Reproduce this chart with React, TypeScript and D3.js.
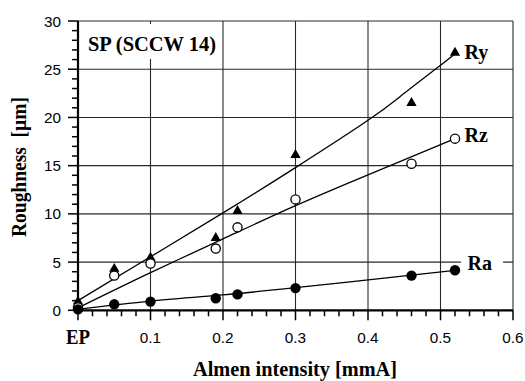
import React from "react";
import * as d3 from "d3";

// Measured data (Almen intensity, mmA; EP = 0)
const intensity = [0, 0.05, 0.1, 0.19, 0.22, 0.3, 0.46, 0.52];
const ryValues = [0.9, 4.3, 5.45, 7.5, 10.3, 16.1, 21.5, 26.7];
const rzValues = [0.3, 3.6, 4.85, 6.4, 8.6, 11.5, 15.2, 17.8];
const raValues = [0.1, 0.62, 0.9, 1.25, 1.65, 2.3, 3.6, 4.15];

// Trend curves
const ryFitX = [0, 0.1, 0.2, 0.3, 0.4, 0.45, 0.5, 0.52];
const ryFitY = [1.0, 5.55, 10.1, 14.8, 19.7, 22.5, 25.4, 26.6];
const rzFitX = [0, 0.1, 0.2, 0.3, 0.4, 0.52];
const rzFitY = [0.25, 3.9, 7.4, 10.85, 14.05, 17.8];
const raFitX = [0, 0.1, 0.2, 0.3, 0.46, 0.52];
const raFitY = [0.1, 0.95, 1.6, 2.35, 3.65, 4.15];

const xTickValues = [0, 0.1, 0.2, 0.3, 0.4, 0.5, 0.6];
const xTickLabels = ["EP", "0.1", "0.2", "0.3", "0.4", "0.5", "0.6"];
const yTickValues = [0, 5, 10, 15, 20, 25, 30];

const SERIF = "'Liberation Serif', 'Times New Roman', serif";
const SANS = "'Liberation Sans', Arial, sans-serif";

export default function App() {
  const x = d3.scaleLinear().domain([0, 0.6]).range([78, 513]);
  const y = d3.scaleLinear().domain([0, 30]).range([310.3, 21]);

  const line = d3
    .line<[number, number]>()
    .x((d) => x(d[0]))
    .y((d) => y(d[1]))
    .curve(d3.curveNatural);

  const zip = (a: number[], b: number[]) => a.map((v, i) => [v, b[i]] as [number, number]);

  const tri = d3.symbol().type(d3.symbolTriangle).size(46)() as string;

  const xMinor = d3.range(0, 0.6001, 0.02);
  const yMinor = d3.range(0, 30.001, 1);

  return (
    <svg
      width={525}
      height={381}
      style={{ position: "absolute", left: 0, top: 0, background: "#fff" }}
    >
      <rect x={0} y={0} width={525} height={381} fill="#fff" />
      {/* grid */}
      {yTickValues.slice(1).map((v) => (
        <line key={"gy" + v} x1={x(0)} x2={x(0.6)} y1={y(v)} y2={y(v)} stroke="#2a2a2a" strokeWidth={1.1} />
      ))}
      {xTickValues.slice(1).map((v) => (
        <line key={"gx" + v} x1={x(v)} x2={x(v)} y1={y(0)} y2={y(30)} stroke="#2a2a2a" strokeWidth={1.1} />
      ))}

      {/* label boxes that interrupt grid */}
      <rect x={84} y={24} width={137} height={35} fill="#fff" />
      <rect x={461} y={255} width={42} height={18} fill="#fff" />

      {/* axes */}
      {xMinor.map((v, i) => (
        <line
          key={"xt" + i}
          x1={x(v)}
          x2={x(v)}
          y1={y(0)}
          y2={y(0) + (i % 5 === 0 ? 10 : 6)}
          stroke="#000"
          strokeWidth={1.5}
        />
      ))}
      {yMinor.map((v, i) => (
        <line
          key={"yt" + i}
          x1={x(0) - (i % 5 === 0 ? 10 : 6)}
          x2={x(0)}
          y1={y(v)}
          y2={y(v)}
          stroke="#000"
          strokeWidth={1.5}
        />
      ))}
      <line x1={x(0)} x2={x(0)} y1={y(30)} y2={y(0) + 1} stroke="#000" strokeWidth={2.2} />
      <line x1={x(0) - 1} x2={x(0.6)} y1={y(0)} y2={y(0)} stroke="#000" strokeWidth={2.2} />

      {/* tick labels */}
      {yTickValues.map((v) => (
        <text key={"yl" + v} x={61} y={y(v)} dy="0.36em" textAnchor="end" fontFamily={SANS} fontSize={15.3} fill="#000">
          {v}
        </text>
      ))}
      {xTickValues.map((v, i) =>
        i === 0 ? (
          <text key={"xl" + i} x={x(v)} y={344} textAnchor="middle" fontFamily={SERIF} fontWeight="bold" fontSize={20} fill="#000" textLength={24} lengthAdjust="spacingAndGlyphs">
            {xTickLabels[i]}
          </text>
        ) : (
          <text key={"xl" + i} x={x(v)} y={343} textAnchor="middle" fontFamily={SANS} fontSize={15.3} fill="#000">
            {xTickLabels[i]}
          </text>
        )
      )}

      {/* axis titles */}
      <text x={295} y={376} textAnchor="middle" fontFamily={SERIF} fontWeight="bold" fontSize={20} fill="#000" textLength={204} lengthAdjust="spacingAndGlyphs">
        Almen intensity [mmA]
      </text>
      <text
        transform={`translate(25.5,167) rotate(-90)`}
        textAnchor="middle"
        fontFamily={SERIF}
        fontWeight="bold"
        fontSize={20}
        fill="#000"
        textLength={140}
        lengthAdjust="spacingAndGlyphs"
        style={{ whiteSpace: "pre" }}
      >
        {"Roughness  [µm]"}
      </text>

      {/* trend lines */}
      <path d={line(zip(ryFitX, ryFitY)) as string} fill="none" stroke="#000" strokeWidth={1.3} />
      <path d={line(zip(rzFitX, rzFitY)) as string} fill="none" stroke="#000" strokeWidth={1.3} />
      <path d={line(zip(raFitX, raFitY)) as string} fill="none" stroke="#000" strokeWidth={1.3} />

      {/* markers */}
      {intensity.map((v, i) => (
        <path key={"ry" + i} d={tri} transform={`translate(${x(v)},${y(ryValues[i])})`} fill="#000" />
      ))}
      {intensity.map((v, i) => (
        <circle key={"rz" + i} cx={x(v)} cy={y(rzValues[i])} r={4.6} fill="#fff" stroke="#000" strokeWidth={1.3} />
      ))}
      {intensity.map((v, i) => (
        <circle key={"ra" + i} cx={x(v)} cy={y(raValues[i])} r={5.2} fill="#000" />
      ))}

      {/* labels */}
      <text x={88} y={51} fontFamily={SERIF} fontWeight="bold" fontSize={20} fill="#000" textLength={128} lengthAdjust="spacingAndGlyphs">
        SP (SCCW 14)
      </text>
      <text x={464.5} y={58.5} fontFamily={SERIF} fontWeight="bold" fontSize={20} fill="#000">
        Ry
      </text>
      <text x={464.5} y={141.5} fontFamily={SERIF} fontWeight="bold" fontSize={20} fill="#000">
        Rz
      </text>
      <text x={467.5} y={270} fontFamily={SERIF} fontWeight="bold" fontSize={20} fill="#000">
        Ra
      </text>
    </svg>
  );
}
